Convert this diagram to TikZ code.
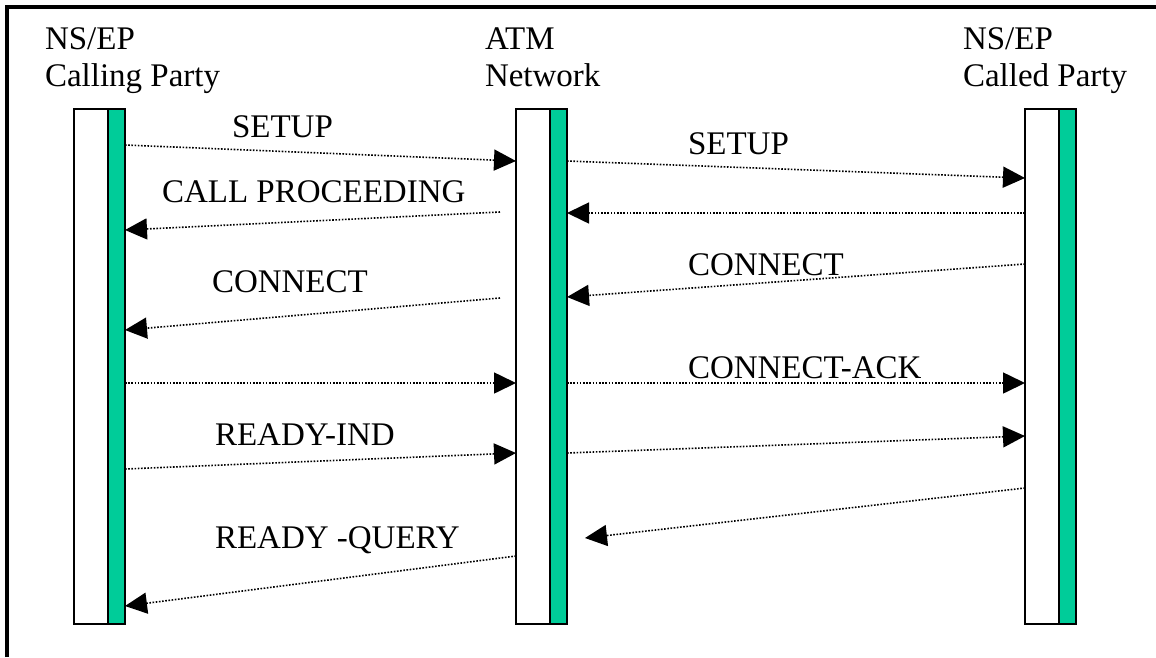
\documentclass[tikz,border=0pt]{standalone}
\usepackage{fontspec}
\setmainfont{Liberation Serif}
\usetikzlibrary{arrows.meta}
\definecolor{lifegreen}{RGB}{0,204,153}
\begin{document}
\begin{tikzpicture}[x=1pt,y=-1pt,
  lbl/.style={anchor=base west, inner sep=0pt, outer sep=0pt, font=\fontsize{33}{40}\selectfont},
  lifebar/.style={draw=black, line width=2pt, fill=white, minimum width=34pt,
    minimum height=515pt, anchor=north west, inner sep=0pt, outer sep=0pt},
  actbar/.style={lifebar, fill=lifegreen, minimum width=17pt},
  msg/.style={line width=1.6pt, dash pattern=on 1.6pt off 1.6pt,
    -{Triangle[length=22pt,width=21pt]}}]
\useasboundingbox (0,0) rectangle (1156,657);

% outer frame (top and left edges)
\draw[line width=4pt] (7,657) -- (7,7) -- (1156,7);

% party headings
\node[lbl] (h1a) at (45,49) {NS/EP};
\node[lbl] (h1b) at (45,86) {Calling Party};
\node[lbl] (h2a) at (485,49) {ATM};
\node[lbl] (h2b) at (485,86) {Network};
\node[lbl] (h3a) at (963,49) {NS/EP};
\node[lbl] (h3b) at (963,86) {Called Party};

% lifelines
\node[lifebar] (callW) at (74,109) {};
\node[actbar]  (callG) at (108,109) {};
\node[lifebar] (netW)  at (516,109) {};
\node[actbar]  (netG)  at (550,109) {};
\node[lifebar] (cldW)  at (1025,109) {};
\node[actbar]  (cldG)  at (1059,109) {};

% message end points
\coordinate (a1) at (callG.east |- 0,145);
\coordinate (b1) at (netW.west  |- 0,161);
\coordinate (a2) at (netG.east  |- 0,161);
\coordinate (b2) at (cldW.west  |- 0,178);
\coordinate (a3) at (cldW.west  |- 0,213);
\coordinate (b3) at (netG.east  |- 0,213);
\coordinate (a4) at (500,212);
\coordinate (b4) at (callG.east |- 0,230);
\coordinate (a5) at (cldW.west  |- 0,264);
\coordinate (b5) at (netG.east  |- 0,297);
\coordinate (a6) at (500,298);
\coordinate (b6) at (callG.east |- 0,330);
\coordinate (a7) at (callG.east |- 0,383);
\coordinate (b7) at (netW.west  |- 0,383);
\coordinate (a8) at (netG.east  |- 0,383);
\coordinate (b8) at (cldW.west  |- 0,383);
\coordinate (a9) at (callG.east |- 0,469);
\coordinate (b9) at (netW.west  |- 0,453);
\coordinate (a10) at (netG.east |- 0,453);
\coordinate (b10) at (cldW.west |- 0,436);
\coordinate (a11) at (cldW.west |- 0,488);
\coordinate (b11) at (585,538);
\coordinate (a12) at (netW.west |- 0,556);
\coordinate (b12) at (callG.east |- 0,606);

% messages
\draw[msg] (a1) -- (b1);
\draw[msg] (a2) -- (b2);
\draw[msg] (a3) -- (b3);
\draw[msg] (a4) -- (b4);
\draw[msg] (a5) -- (b5);
\draw[msg] (a6) -- (b6);
\draw[msg] (a7) -- (b7);
\draw[msg] (a8) -- (b8);
\draw[msg] (a9) -- (b9);
\draw[msg] (a10) -- (b10);
\draw[msg] (a11) -- (b11);
\draw[msg] (a12) -- (b12);

% message labels
\node[lbl] (m1) at (232,137) {SETUP};
\node[lbl] (m2) at (688,154) {SETUP};
\node[lbl] (m3) at (162,202) {CALL PROCEEDING};
\node[lbl] (m4) at (688,275) {CONNECT};
\node[lbl] (m5) at (212,292) {CONNECT};
\node[lbl] (m6) at (688,378) {CONNECT-ACK};
\node[lbl] (m7) at (215,445) {READY-IND};
\node[lbl] (m8) at (215,548) {READY -QUERY};
\end{tikzpicture}
\end{document}
